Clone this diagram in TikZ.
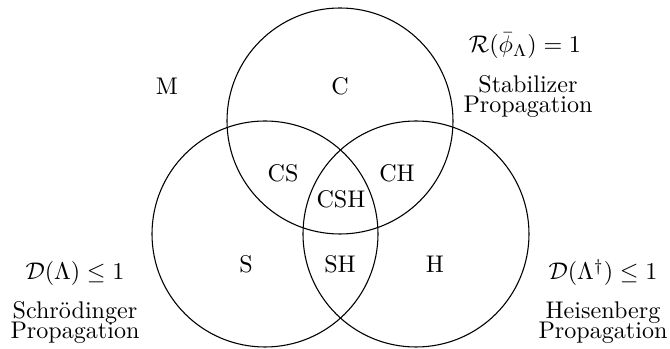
\documentclass[tikz,border=0pt]{standalone}
\begin{document}
\begin{tikzpicture}[x=0.415pt,y=-0.415pt,
  ring/.style={draw=black, line width=0.45pt},
  region/.style={inner sep=0pt, anchor=center},
  caption/.style={inner sep=0pt, anchor=base, align=center}]
\useasboundingbox (0,0) rectangle (670,349);
% circles
\coordinate (cC) at (340,121);
\coordinate (cS) at (265,234);
\coordinate (cH) at (416,234);
\draw[ring] (cC) circle (113);
\draw[ring] (cS) circle (113);
\draw[ring] (cH) circle (113);
% region labels
\node[region] (M)   at (167,86)  {M};
\node[region] (C)   at (340,86)  {C};
\node[region] (CS)  at (283,173) {CS};
\node[region] (CH)  at (397,173) {CH};
\node[region] (CSH) at (341,199) {CSH};
\node[region] (S)   at (246,264) {S};
\node[region] (SH)  at (340,264) {SH};
\node[region] (H)   at (435,264) {H};
% captions (base = baseline of the last line)
\node[caption] (Rc)  at (525,53)  {$\mathcal{R}(\bar{\phi}_\Lambda) = 1$};
\node[caption] (Rt)  at (528,113) {Stabilizer\\[-3.7pt]Propagation};
\node[caption] (Dc)  at (75,280)  {$\mathcal{D}(\Lambda) \leq 1$};
\node[caption] (Dt)  at (75,339)  {Schr\"odinger\\[-3.7pt]Propagation};
\node[caption] (Hc)  at (603,280) {$\mathcal{D}(\Lambda^\dagger) \leq 1$};
\node[caption] (Ht)  at (603,339) {Heisenberg\\[-3.7pt]Propagation};
\end{tikzpicture}
\end{document}
